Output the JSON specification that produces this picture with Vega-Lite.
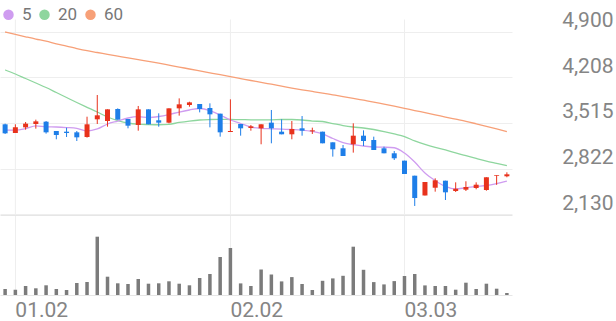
{
  "$schema": "https://vega.github.io/schema/vega-lite/v6.json",
  "padding": 0,
  "background": "white",
  "spacing": 0,
  "config": {"view": {"stroke": null}, "font": "Roboto"},
  "resolve": {"scale": {"x": "independent"}},
  "data": {"values": [
    {"d":"12.30","o":3495,"h":3505,"l":3348,"c":3358,"v":60000,"m5":3408,"m20":4322,"m60":4900},
    {"d":"01.02","o":3363,"h":3495,"l":3363,"c":3449,"v":53000,"m5":3408,"m20":4261,"m60":4863},
    {"d":"01.05","o":3449,"h":3530,"l":3414,"c":3505,"v":90000,"m5":3431,"m20":4192,"m60":4827},
    {"d":"01.06","o":3500,"h":3566,"l":3429,"c":3540,"v":67000,"m5":3472,"m20":4124,"m60":4792},
    {"d":"01.07","o":3535,"h":3545,"l":3353,"c":3373,"v":97000,"m5":3457,"m20":4055,"m60":4760},
    {"d":"01.08","o":3393,"h":3393,"l":3267,"c":3332,"v":60000,"m5":3454,"m20":3979,"m60":4720},
    {"d":"01.09","o":3383,"h":3444,"l":3302,"c":3363,"v":50000,"m5":3446,"m20":3903,"m60":4685},
    {"d":"01.12","o":3373,"h":3393,"l":3241,"c":3297,"v":120000,"m5":3434,"m20":3827,"m60":4648},
    {"d":"01.13","o":3302,"h":3611,"l":3292,"c":3495,"v":130000,"m5":3393,"m20":3754,"m60":4615},
    {"d":"01.14","o":3571,"h":3941,"l":3500,"c":3632,"v":583000,"m5":3424,"m20":3682,"m60":4588},
    {"d":"01.15","o":3545,"h":3723,"l":3459,"c":3723,"v":183000,"m5":3500,"m20":3606,"m60":4560},
    {"d":"01.16","o":3728,"h":3738,"l":3566,"c":3566,"v":117000,"m5":3545,"m20":3553,"m60":4533},
    {"d":"01.19","o":3576,"h":3576,"l":3434,"c":3474,"v":110000,"m5":3591,"m20":3515,"m60":4506},
    {"d":"01.20","o":3485,"h":3774,"l":3398,"c":3723,"v":160000,"m5":3611,"m20":3497,"m60":4480},
    {"d":"01.21","o":3723,"h":3723,"l":3495,"c":3495,"v":113000,"m5":3599,"m20":3491,"m60":4452},
    {"d":"01.22","o":3556,"h":3662,"l":3459,"c":3520,"v":117000,"m5":3614,"m20":3488,"m60":4425},
    {"d":"01.23","o":3520,"h":3738,"l":3510,"c":3738,"v":137000,"m5":3644,"m20":3495,"m60":4396},
    {"d":"01.26","o":3738,"h":3890,"l":3627,"c":3799,"v":113000,"m5":3682,"m20":3523,"m60":4367},
    {"d":"01.27","o":3789,"h":3839,"l":3763,"c":3829,"v":97000,"m5":3713,"m20":3545,"m60":4337},
    {"d":"01.28","o":3804,"h":3804,"l":3677,"c":3728,"v":170000,"m5":3736,"m20":3561,"m60":4308},
    {"d":"01.29","o":3743,"h":3814,"l":3449,"c":3647,"v":210000,"m5":3705,"m20":3568,"m60":4279},
    {"d":"01.30","o":3657,"h":3657,"l":3307,"c":3373,"v":380000,"m5":3637,"m20":3571,"m60":4250},
    {"d":"02.02","o":3378,"h":3875,"l":3378,"c":3393,"v":470000,"m5":3561,"m20":3568,"m60":4220},
    {"d":"02.03","o":3500,"h":3500,"l":3322,"c":3434,"v":116000,"m5":3507,"m20":3567,"m60":4191},
    {"d":"02.04","o":3439,"h":3485,"l":3398,"c":3464,"v":90000,"m5":3454,"m20":3564,"m60":4162},
    {"d":"02.05","o":3434,"h":3495,"l":3191,"c":3495,"v":255000,"m5":3434,"m20":3564,"m60":4134},
    {"d":"02.06","o":3520,"h":3713,"l":3206,"c":3434,"v":205000,"m5":3427,"m20":3564,"m60":4105},
    {"d":"02.09","o":3383,"h":3571,"l":3343,"c":3343,"v":136000,"m5":3421,"m20":3568,"m60":4076},
    {"d":"02.10","o":3343,"h":3545,"l":3267,"c":3424,"v":179000,"m5":3416,"m20":3568,"m60":4047},
    {"d":"02.11","o":3434,"h":3621,"l":3322,"c":3398,"v":110000,"m5":3408,"m20":3561,"m60":4020},
    {"d":"02.12","o":3388,"h":3444,"l":3348,"c":3403,"v":50000,"m5":3386,"m20":3545,"m60":3995},
    {"d":"02.13","o":3383,"h":3383,"l":3206,"c":3206,"v":142000,"m5":3348,"m20":3538,"m60":3970},
    {"d":"02.19","o":3221,"h":3221,"l":3003,"c":3115,"v":166000,"m5":3279,"m20":3507,"m60":3944},
    {"d":"02.20","o":3130,"h":3180,"l":3013,"c":3013,"v":192000,"m5":3218,"m20":3476,"m60":3918},
    {"d":"02.23","o":3191,"h":3510,"l":3064,"c":3322,"v":483000,"m5":3185,"m20":3454,"m60":3891},
    {"d":"02.24","o":3322,"h":3403,"l":3165,"c":3241,"v":252000,"m5":3165,"m20":3439,"m60":3862},
    {"d":"02.25","o":3256,"h":3307,"l":3104,"c":3104,"v":129000,"m5":3150,"m20":3416,"m60":3833},
    {"d":"02.26","o":3130,"h":3155,"l":3054,"c":3054,"v":106000,"m5":3147,"m20":3385,"m60":3801},
    {"d":"02.27","o":3054,"h":3089,"l":2952,"c":2978,"v":139000,"m5":3138,"m20":3348,"m60":3771},
    {"d":"03.03","o":2942,"h":2942,"l":2739,"c":2739,"v":190000,"m5":3058,"m20":3307,"m60":3739},
    {"d":"03.04","o":2713,"h":2713,"l":2252,"c":2373,"v":210000,"m5":2921,"m20":3242,"m60":3705},
    {"d":"03.05","o":2412,"h":2617,"l":2412,"c":2617,"v":96000,"m5":2754,"m20":3188,"m60":3673},
    {"d":"03.06","o":2530,"h":2673,"l":2470,"c":2643,"v":90000,"m5":2640,"m20":3143,"m60":3640},
    {"d":"03.09","o":2637,"h":2637,"l":2343,"c":2460,"v":90000,"m5":2549,"m20":3105,"m60":3606},
    {"d":"03.10","o":2480,"h":2612,"l":2465,"c":2515,"v":53000,"m5":2510,"m20":3059,"m60":3573},
    {"d":"03.11","o":2500,"h":2628,"l":2480,"c":2541,"v":123000,"m5":2530,"m20":3017,"m60":3540},
    {"d":"03.12","o":2526,"h":2612,"l":2506,"c":2576,"v":60000,"m5":2549,"m20":2976,"m60":3503},
    {"d":"03.13","o":2495,"h":2689,"l":2485,"c":2689,"v":113000,"m5":2564,"m20":2935,"m60":3465},
    {"d":"03.16","o":2708,"h":2719,"l":2574,"c":2719,"v":63000,"m5":2594,"m20":2900,"m60":3425},
    {"d":"03.17","o":2704,"h":2764,"l":2689,"c":2734,"v":20000,"m5":2632,"m20":2865,"m60":3383}
  ]},
  "vconcat": [
    {
      "width": 512,
      "height": 214,
      "encoding": {
        "x": {"field": "d", "type": "ordinal", "sort": null, "scale": {"paddingInner": 0, "paddingOuter": 0}, "axis": null}
      },
      "layer": [
        {
          "mark": {"type": "rule", "color": "#eeeeee", "strokeWidth": 1},
          "encoding": {
            "y": {"datum": 5090, "type": "quantitative", "title": null,
              "scale": {"domain": [2130, 5387], "nice": false, "zero": false},
              "axis": {"orient": "right", "values": [2130, 2822, 3515, 4208, 4900], "format": ",d",
                "grid": true, "gridColor": "#eeeeee", "domain": false, "ticks": false,
                "labelAlign": "right", "labelBaseline": "alphabetic", "labelOffset": -5, "labelPadding": 101,
                "labelFontSize": 21, "labelColor": "#858585", "labelFont": "Roboto", "title": null}},
            "y2": {"datum": 2130},
            "strokeOpacity": {"condition": {"test": "indexof(['01.02','02.02','03.03'], datum.d) >= 0", "value": 1}, "value": 0}
          }
        },
        {
          "mark": {"type": "line", "strokeWidth": 1.3, "interpolate": "monotone"},
          "encoding": {
            "y": {"field": "m60", "type": "quantitative", "title": null},
            "color": {"datum": "60", "type": "nominal",
              "scale": {"domain": ["5", "20", "60"], "range": ["#cf9cf0", "#8ed69e", "#f7a078"]},
              "legend": {"orient": "none", "legendX": 0, "legendY": 6, "direction": "horizontal", "title": null,
                "symbolType": "circle", "symbolSize": 110, "symbolStrokeWidth": 0, "padding": 0,
                "labelFontSize": 17, "labelColor": "#777777", "labelFont": "Roboto", "labelOffset": 5, "columnPadding": 4,
                "encode": {"symbols": {"update": {"fill": {"scale": "color", "field": "value"}, "fillOpacity": {"value": 1}, "strokeWidth": {"value": 0}}}}}}
          }
        },
        {
          "mark": {"type": "line", "strokeWidth": 1.3, "interpolate": "monotone"},
          "encoding": {
            "y": {"field": "m20", "type": "quantitative", "title": null},
            "color": {"datum": "20", "type": "nominal"}
          }
        },
        {
          "mark": {"type": "line", "strokeWidth": 1.3, "interpolate": "monotone"},
          "encoding": {
            "y": {"field": "m5", "type": "quantitative", "title": null},
            "color": {"datum": "5", "type": "nominal"}
          }
        },
        {
          "mark": {"type": "rule", "strokeWidth": 1},
          "encoding": {
            "y": {"field": "l", "type": "quantitative", "title": null},
            "y2": {"field": "h"},
            "color": {"condition": {"test": "datum.c >= datum.o", "value": "#e8321c"}, "value": "#1e7ee8"}
          }
        },
        {
          "mark": {"type": "bar", "size": 5},
          "encoding": {
            "y": {"field": "o", "type": "quantitative", "title": null},
            "y2": {"field": "c"},
            "color": {"condition": {"test": "datum.c >= datum.o", "value": "#e8321c"}, "value": "#1e7ee8"}
          }
        }
      ]
    },
    {
      "width": 616,
      "height": 80,
      "mark": {"type": "bar", "color": "#7b7b7b", "size": 3.5},
      "encoding": {
        "x": {"field": "d", "type": "ordinal", "sort": null,
          "scale": {"range": [0, 512], "paddingInner": 0, "paddingOuter": 0},
          "axis": {"values": ["01.02", "02.02", "03.03"], "grid": true, "gridColor": "#eeeeee", "domain": false, "ticks": false,
            "labelAlign": "left", "labelAngle": 0, "labelFontSize": 21, "labelColor": "#858585", "labelFont": "Roboto", "labelPadding": 4, "title": null}},
        "y": {"field": "v", "type": "quantitative",
          "scale": {"domain": [0, 800000], "nice": false},
          "axis": {"values": [0, 800000], "grid": true, "gridColor": "#e6e6e6", "labels": false, "ticks": false, "domain": false, "title": null}}
      }
    }
  ]
}
